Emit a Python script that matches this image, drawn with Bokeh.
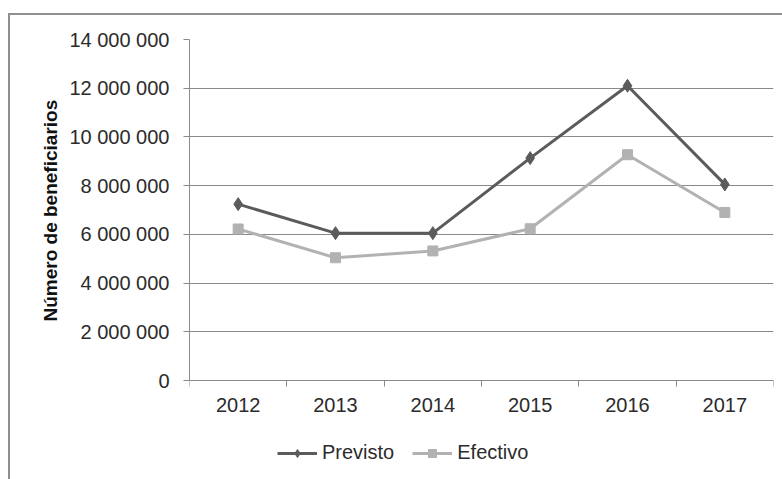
from bokeh.plotting import figure
from bokeh.models import (Range1d, FixedTicker, NumeralTickFormatter, Legend, LegendItem, Title)
from bokeh.embed import file_html
from bokeh.resources import INLINE

years = [2012, 2013, 2014, 2015, 2016, 2017]
previsto = [7240000, 6050000, 6050000, 9130000, 12100000, 8050000]
efectivo = [6220000, 5040000, 5320000, 6230000, 9270000, 6900000]
y_ticks = [0, 2000000, 4000000, 6000000, 8000000, 10000000, 12000000, 14000000]
y_tick_labels = ["0", "2 000 000", "4 000 000", "6 000 000", "8 000 000",
                 "10 000 000", "12 000 000", "14 000 000"]
y_title = "Número de beneficiarios"

FONT = "Liberation Sans"
TXT = "#2b2b2b"
GRID = "#8a8a8a"

# frame extends below zero so that the legend below the axis stays inside it
y_bottom = -y_ticks[-1] * 96 / 341

p = figure(width=774, height=466, output_backend="svg", toolbar_location=None,
           x_range=Range1d(years[0] - 0.5, years[-1] + 0.5),
           y_range=Range1d(y_bottom, y_ticks[-1]),
           min_border_left=179, min_border_right=11, min_border_top=24,
           min_border_bottom=5)
p.margin = (13, 0, 0, 8)
p.styles = {"border-left": "2px solid #8f8f8f", "border-top": "2px solid #8f8f8f",
            "box-sizing": "border-box"}
p.outline_line_color = None
p.background_fill_color = "white"
p.border_fill_color = "white"

# y axis
p.yaxis.ticker = FixedTicker(ticks=y_ticks)
p.yaxis.bounds = (y_ticks[0], y_ticks[-1])
p.yaxis.major_label_overrides = {t: l for t, l in zip(y_ticks, y_tick_labels)}
p.yaxis.major_label_text_font = FONT
p.yaxis.major_label_text_font_size = "20px"
p.yaxis.major_label_text_color = TXT
p.yaxis.major_tick_out = 6
p.yaxis.major_tick_in = 0
p.yaxis.minor_tick_line_color = None
p.yaxis.major_tick_line_color = GRID
p.yaxis.axis_line_color = GRID
p.yaxis.major_label_standoff = 14

ytitle = Title(text=y_title, align="left", offset=155, standoff=12,
               text_font=FONT, text_font_style="bold", text_font_size="19px",
               text_color="#111111")
p.add_layout(ytitle, "left")

# x axis, fixed at y = 0
p.xaxis.fixed_location = 0
p.xaxis.ticker = FixedTicker(ticks=years, minor_ticks=[y - 0.5 for y in years] + [years[-1] + 0.5])
p.xaxis.formatter = NumeralTickFormatter(format="0")
p.xaxis.major_label_text_font = FONT
p.xaxis.major_label_text_font_size = "20px"
p.xaxis.major_label_text_color = TXT
p.xaxis.major_tick_line_color = None
p.xaxis.major_tick_out = 6
p.xaxis.major_tick_in = 0
p.xaxis.minor_tick_out = 6
p.xaxis.minor_tick_in = 0
p.xaxis.minor_tick_line_color = GRID
p.xaxis.axis_line_color = GRID
p.xaxis.major_label_standoff = 11

p.xgrid.grid_line_color = None
p.ygrid.grid_line_color = GRID
p.ygrid.grid_line_width = 1
p.ygrid.bounds = (y_ticks[0], y_ticks[-1])

C1 = "#5b5b5b"
C2 = "#b2b2b2"
l1 = p.line(years, previsto, line_color=C1, line_width=3)
s1 = p.scatter(years, previsto, marker="diamond", size=13, fill_color=C1, line_color=C1)
l2 = p.line(years, efectivo, line_color=C2, line_width=3)
s2 = p.scatter(years, efectivo, marker="square", size=10, fill_color=C2, line_color=C2)

legend = Legend(items=[LegendItem(label="Previsto", renderers=[l1, s1]),
                       LegendItem(label="Efectivo", renderers=[l2, s2])],
                orientation="horizontal", location=(88, 12),
                label_text_font=FONT, label_text_font_size="20px",
                label_text_color=TXT, glyph_width=40, glyph_height=20,
                label_standoff=5, spacing=18, padding=0, margin=0,
                border_line_color=None, background_fill_alpha=0)
p.add_layout(legend, "center")

open("out.html", "w").write(file_html(p, INLINE))
